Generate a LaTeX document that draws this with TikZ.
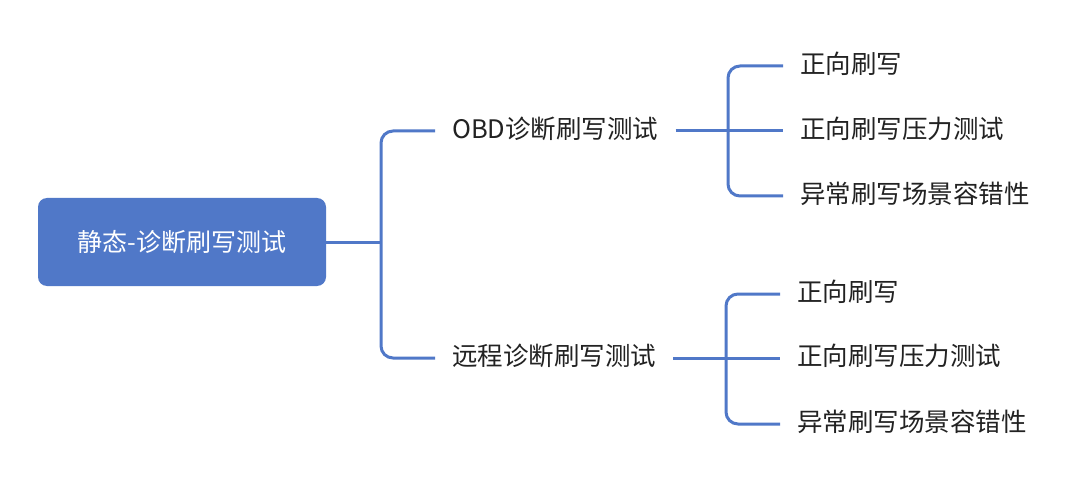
\documentclass[tikz,border=0pt]{standalone}
\usepackage{fontspec}
\setmainfont{Noto Sans CJK SC}
\definecolor{mapblue}{HTML}{5078C8}
\definecolor{ink}{HTML}{222222}
\begin{document}
\begin{tikzpicture}[x=1pt,y=-1pt,
  rootbox/.style={draw=none,fill=mapblue,rounded corners=9pt,minimum width=288pt,minimum height=88pt,
    text=white,font=\fontsize{25}{30}\selectfont,inner sep=0pt},
  topic/.style={anchor=west,text=ink,font=\fontsize{25.5}{30}\selectfont,inner xsep=17pt,inner ysep=0pt},
  conn/.style={draw=mapblue,line width=3pt,rounded corners=12pt}]
\useasboundingbox (0,0) rectangle (1080,484);
\fill[white] (0,0) rectangle (1080,484);

% root
\node[rootbox] (root) at (182,242) {静态-诊断刷写测试};

% second level
\node[topic] (obd) at (435,129) {OBD诊断刷写测试};
\node[topic] (remote) at (435,356) {远程诊断刷写测试};

% leaves under OBD
\node[topic] (a1) at (783,64) {正向刷写};
\node[topic] (a2) at (783,129) {正向刷写压力测试};
\node[topic] (a3) at (783,194) {异常刷写场景容错性};

% leaves under remote
\node[topic] (b1) at (780,292) {正向刷写};
\node[topic] (b2) at (780,356) {正向刷写压力测试};
\node[topic] (b3) at (780,422) {异常刷写场景容错性};

% junction points
\coordinate (j0) at (381,242);
\coordinate (j1) at (728,127);
\coordinate (j2) at (726,354);

% connectors
\draw[conn] (root.east) -- (j0);
\draw[conn] ([yshift=-2pt]obd.west) -| (j0) |- ([yshift=-2pt]remote.west);

\draw[conn] ([yshift=-2pt]obd.east) -- ([yshift=-2pt]a2.west);
\draw[conn] ([yshift=-2pt]a1.west) -| (j1) |- ([yshift=-2pt]a3.west);

\draw[conn] ([yshift=-2pt]remote.east) -- ([yshift=-2pt]b2.west);
\draw[conn] ([yshift=-2pt]b1.west) -| (j2) |- ([yshift=-2pt]b3.west);
\end{tikzpicture}
\end{document}
